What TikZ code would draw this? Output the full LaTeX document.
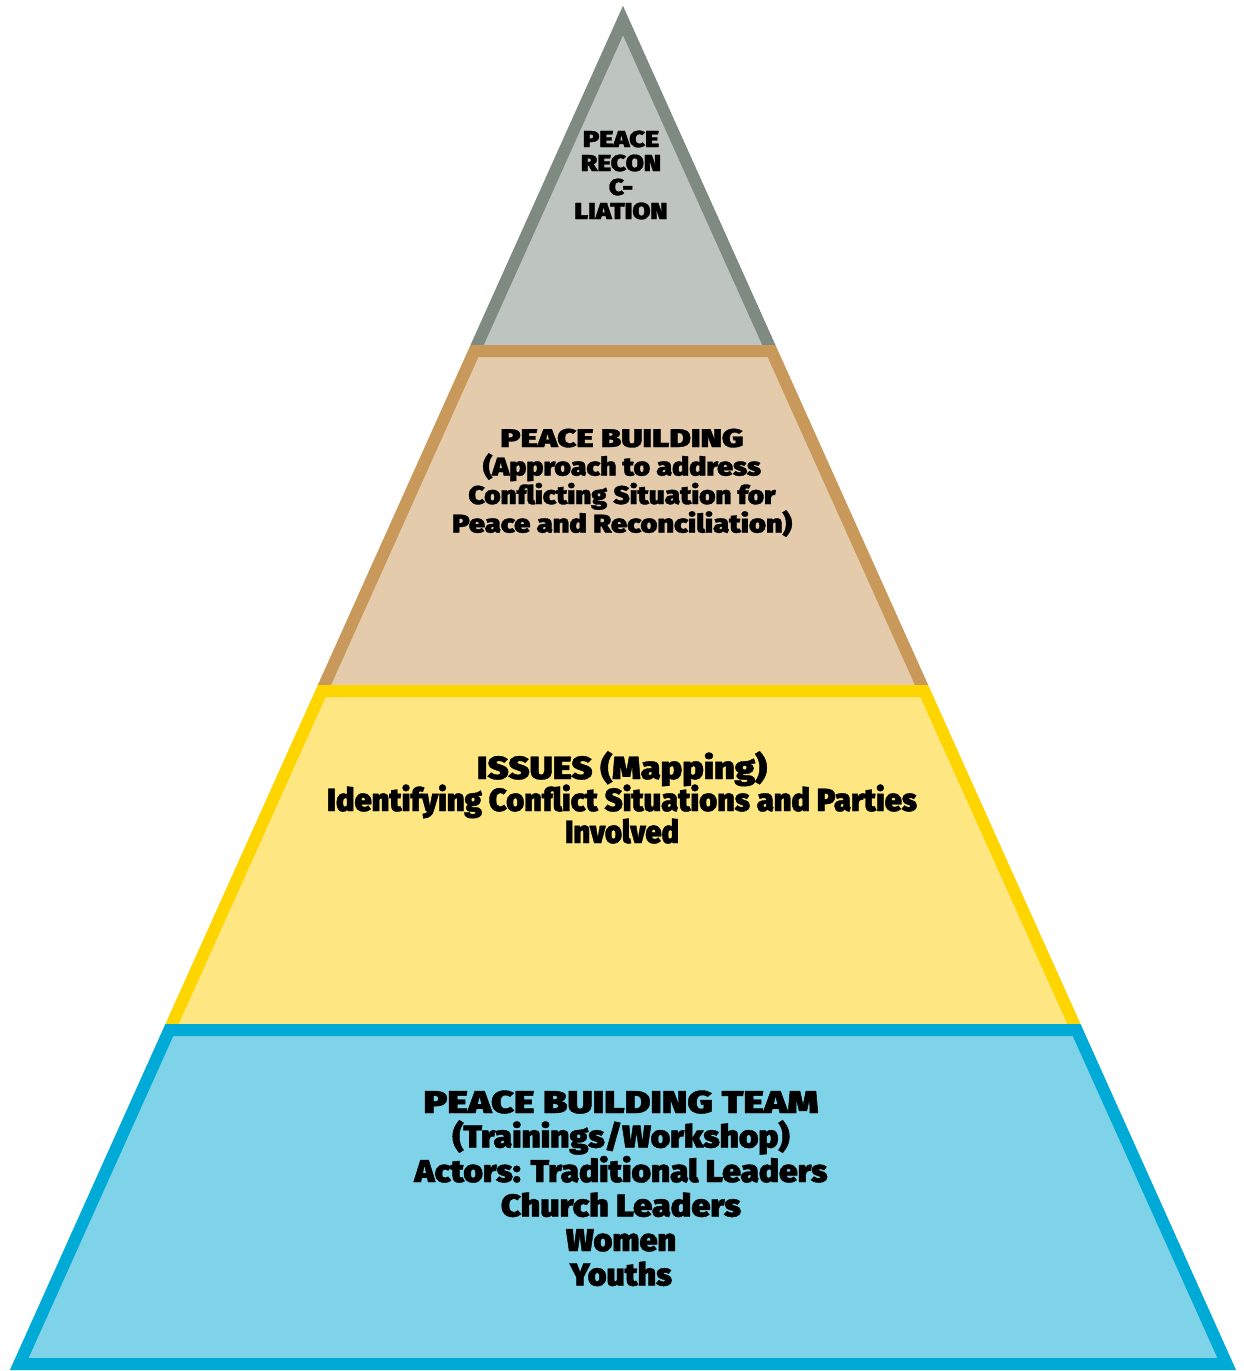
\documentclass[tikz,border=0pt]{standalone}
\usepackage{fontspec}
\usepackage{graphicx}
\newfontfamily\heavyface{Fira Sans Black}[FakeBold=1.2]
\definecolor{grayfill}{HTML}{BEC4C0}
\definecolor{grayline}{HTML}{7F8A80}
\definecolor{tanfill}{HTML}{E3CBAB}
\definecolor{tanline}{HTML}{C8995A}
\definecolor{yelfill}{HTML}{FEE783}
\definecolor{yelline}{HTML}{FFD500}
\definecolor{bluefill}{HTML}{7FD3E8}
\definecolor{blueline}{HTML}{00AAD6}
% set one line of text to a given width (in px units of the picture)
\newsavebox\fitbox
\newcommand\fitline[2]{\sbox\fitbox{#2}\pgfmathsetmacro\fitsx{#1*0.5/\the\wd\fitbox}\scalebox{\fitsx}[1]{\usebox\fitbox}}
\begin{document}
\begin{tikzpicture}[x=0.5pt,y=-0.5pt,
  rim/.style={line width=12pt,line join=miter},
  label/.style={inner sep=0pt,anchor=base,text=black}]
\useasboundingbox (0,0) rectangle (1243,1371);
\fill[white] (0,0) rectangle (1243,1371);
% outline of the pyramid and its tier boundaries
\coordinate (apex) at (623,6);
\coordinate (L1) at (470.6,345);  \coordinate (R1) at (775.4,345);
\coordinate (L2) at (317.9,685);  \coordinate (R2) at (928.1,685);
\coordinate (L3) at (165.5,1024); \coordinate (R3) at (1080.5,1024);
\coordinate (L4) at (10,1370);    \coordinate (R4) at (1236,1370);
% top tier
\begin{scope}
  \clip (apex)--(L1)--(R1)--cycle;
  \fill[grayfill] (apex)--(L1)--(R1)--cycle;
  \draw[rim,grayline] (L1)--(apex)--(R1);
\end{scope}
% second tier
\begin{scope}
  \clip (L1)--(L2)--(R2)--(R1)--cycle;
  \fill[tanfill] (L1)--(L2)--(R2)--(R1)--cycle;
  \draw[rim,tanline] (L2)--(L1)--(R1)--(R2);
\end{scope}
% third tier
\begin{scope}
  \clip (L2)--(L3)--(R3)--(R2)--cycle;
  \fill[yelfill] (L2)--(L3)--(R3)--(R2)--cycle;
  \draw[rim,yelline] (L3)--(L2)--(R2)--(R3);
\end{scope}
% base tier
\begin{scope}
  \clip (L3)--(L4)--(R4)--(R3)--cycle;
  \fill[bluefill] (L3)--(L4)--(R4)--(R3)--cycle;
  \draw[rim,blueline] (L3)--(L4)--(R4)--(R3)--cycle;
\end{scope}
% labels
\foreach \n/\y/\w/\t in {a1/147/76/PEACE, a2/171/80/RECON, a3/195/24/C-, a4/219/93/LIATION}
  \node[label,font=\heavyface\fontsize{11.5pt}{12pt}\selectfont] (\n) at (621,\y) {\fitline{\w}{\t}};
\foreach \n/\y/\w/\t in {b1/447/243/PEACE BUILDING, b2/475.5/278/(Approach to address, b3/504/307/Conflicting Situation for, b4/532.5/340/Peace and Reconciliation)}
  \node[label,font=\heavyface\fontsize{12.8pt}{13pt}\selectfont] (\n) at (622,\y) {\fitline{\w}{\t}};
\foreach \n/\y/\w/\t in {c1/779/290/ISSUES (Mapping), c2/811/590/Identifying Conflict Situations and Parties, c3/843/114/Involved}
  \node[label,font=\heavyface\fontsize{16pt}{17pt}\selectfont] (\n) at (622,\y) {\fitline{\w}{\t}};
\foreach \n/\y/\w/\t in {d1/1113/395/PEACE BUILDING TEAM, d2/1147.5/337/{(Trainings/Workshop)}, d3/1182/413/Actors: Traditional Leaders, d4/1216.5/240/Church Leaders, d5/1251/110/Women, d6/1285.5/102/Youths}
  \node[label,font=\heavyface\fontsize{15.75pt}{16pt}\selectfont] (\n) at (621,\y) {\fitline{\w}{\t}};
\end{tikzpicture}
\end{document}
